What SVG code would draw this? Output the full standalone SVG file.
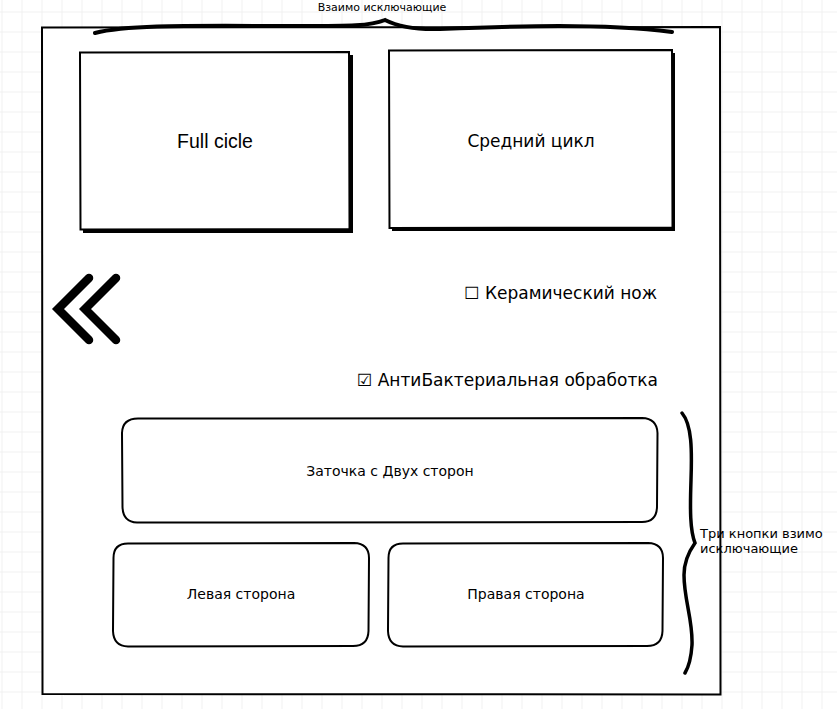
<svg xmlns="http://www.w3.org/2000/svg" width="837" height="709" viewBox="0 0 837 709">
<defs>
<pattern id="grid" width="20" height="20" x="1.5" y="11.5" patternUnits="userSpaceOnUse">
<path d="M0 0.5H20M0.5 0V20" fill="none" stroke="#f0f0f0" stroke-width="1"/>
</pattern>
<style>
.frame{fill:#fff;stroke:#000;stroke-width:2}
.box{fill:#fff;stroke:#000;stroke-width:2}
.shadow{fill:#000}
.btn{fill:#fff;stroke:#000;stroke-width:2}
.brace{fill:none;stroke:#000;stroke-linecap:round}
.big{font-family:"Liberation Sans",Arial,sans-serif;font-size:19.5px;fill:#000}
.lbl{font-family:"DejaVu Sans",sans-serif;font-size:17px;fill:#000}
.btxt{font-family:"DejaVu Sans",sans-serif;font-size:14px;fill:#000}
.note{font-family:"DejaVu Sans",sans-serif;font-size:11px;fill:#000}
.note2{font-family:"DejaVu Sans",sans-serif;font-size:13px;fill:#000}
.chev{fill:none;stroke:#000;stroke-width:8.5;stroke-linecap:round;stroke-linejoin:miter}
</style>
</defs>
<rect width="837" height="709" fill="#fff"/>
<rect width="837" height="709" fill="url(#grid)"/>

<g id="frame">
<path class="frame" d="M42 27.5 L720 27 L720.5 694.5 L42.5 694 Z"/>
</g>

<g id="full-cicle">
<rect class="shadow" x="83" y="55" width="270" height="178"/>
<path class="box" d="M80 52.5 L349 52 L349.5 229 L80.5 229.5 Z"/>
<text class="big" x="215" y="148" text-anchor="middle">Full cicle</text>
</g>

<g id="sredniy-cikl">
<rect class="shadow" x="392" y="53" width="283" height="178"/>
<path class="box" d="M389 50.5 L672 50 L672.5 227.5 L389.5 228 Z"/>
<text class="lbl" x="531" y="147" text-anchor="middle">Средний цикл</text>
</g>

<g id="back-chevrons">
<path class="chev" d="M89 278 L58 309 L89 340"/>
<path class="chev" d="M116 278 L85 309 L116 340"/>
</g>

<g id="ceramic">
<text class="lbl" x="657" y="299" text-anchor="end">☐ Керамический нож</text>
</g>

<g id="antibacterial">
<text class="lbl" x="658" y="386" text-anchor="end">☑ АнтиБактериальная обработка</text>
</g>

<g id="two-sides">
<path class="btn" d="M138 418.5 L642 418 Q657 418.5 657.5 433 L657 507 Q656.5 522 642 522 L137 522.5 Q123 522 122.5 507 L122 433 Q122.5 418.5 138 418.5 Z"/>
<text class="btxt" x="390" y="476" text-anchor="middle">Заточка с Двух сторон</text>
</g>

<g id="left-side">
<path class="btn" d="M128 543.5 L354 543 Q369 543.5 369 558 L368.5 631 Q368 646 353 646 L128 646.5 Q113.5 646 113 631 L113.5 558 Q113.5 543.5 128 543.5 Z"/>
<text class="btxt" x="241" y="599" text-anchor="middle">Левая сторона</text>
</g>

<g id="right-side">
<path class="btn" d="M403 543.5 L648 543 Q663 543.5 663 558 L662.5 631 Q662 646 647 646 L403 646.5 Q388.5 646 388 631 L388.5 558 Q388.5 543.5 403 543.5 Z"/>
<text class="btxt" x="526" y="599" text-anchor="middle">Правая сторона</text>
</g>

<g id="connectors">
<path class="brace" stroke-width="4" d="M95 33 C130 24 200 26 300 26 C350 26 370 26 385 20 C395 25 410 30 440 29 C520 26 600 23 672 32"/>
<path class="brace" stroke-width="3.5" d="M682 413 C692 425 692 450 691 480 C690 510 690 530 695 543 C690 550 684 560 684 575 C684 600 693 620 692 645 C691 660 688 668 685 673"/>
</g>

<g id="labels">
<text class="note" x="382" y="11" text-anchor="middle">Взаимо исключающие</text>
<text class="note2" x="700" y="538">Три кнопки взимо</text>
<text class="note2" x="700" y="553">исключающие</text>
</g>
</svg>
